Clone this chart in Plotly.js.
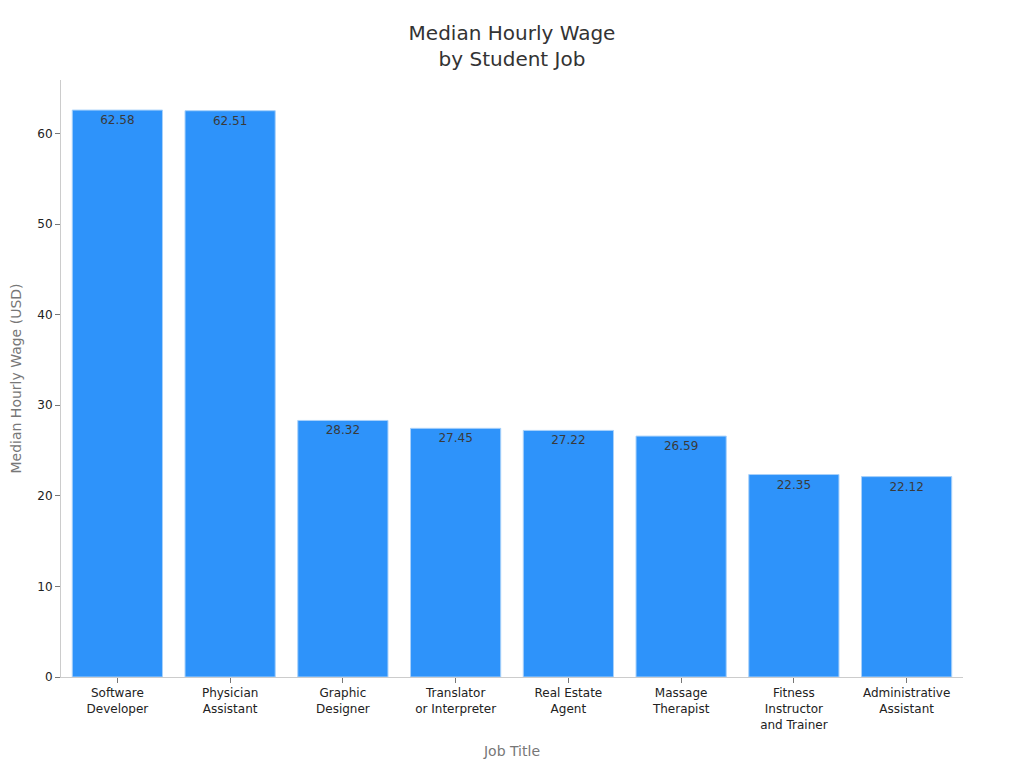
<!DOCTYPE html>
<html>
<head>
<meta charset="utf-8">
<script src="https://cdn.plot.ly/plotly-3.0.1.min.js"></script>
<style>
  html, body { margin: 0; padding: 0; background: #fff; }
  #chart { width: 1024px; height: 768px; }
</style>
</head>
<body>
<div id="chart"></div>
<script>
// job titles (line breaks as in the picture)
const jobs = [
    "Software<br>Developer",
    "Physician<br>Assistant",
    "Graphic<br>Designer",
    "Translator<br>or Interpreter",
    "Real Estate<br>Agent",
    "Massage<br>Therapist",
    "Fitness<br>Instructor<br>and Trainer",
    "Administrative<br>Assistant"
]
const wages = [62.58, 62.51, 28.32, 27.45, 27.22, 26.59, 22.35, 22.12]

const font = "DejaVu Sans, sans-serif"

const trace = {
    type: "bar",
    x: jobs,
    y: wages,
    text: wages.map(v => v.toFixed(2)),
    textposition: "inside",
    insidetextanchor: "end",
    textangle: 0,
    textfont: {family: font, size: 12, color: "#3a3a3a"},
    marker: {color: "#2E93FA", line: {color: "#A8D1FA", width: 1}},
    hoverinfo: "x+y"
}

const layout = {
    width: 1024,
    height: 768,
    margin: {l: 61, r: 61, t: 80, b: 91},
    paper_bgcolor: "#fff",
    plot_bgcolor: "#fff",
    font: {family: font, color: "#333", size: 12},
    title: {
        text: "Median Hourly Wage<br>by Student Job",
        font: {family: font, size: 20, color: "#333"},
        x: 0.5,
        y: 0.948,
        yanchor: "top"
    },
    bargap: 0.2,
    showlegend: false,
    xaxis: {
        title: {text: "Job Title", font: {family: font, size: 14, color: "#777"}, standoff: 15},
        showline: true,
        linecolor: "#ccc",
        ticks: "outside",
        ticklen: 5,
        tickcolor: "#777",
        tickfont: {family: font, size: 12, color: "#222"},
        showgrid: false
    },
    yaxis: {
        title: {text: "Median Hourly Wage (USD)", font: {family: font, size: 14, color: "#777"}, standoff: 12},
        showline: true,
        linecolor: "#ccc",
        ticks: "outside",
        ticklen: 5,
        tickcolor: "#777",
        tickfont: {family: font, size: 12, color: "#222"},
        showgrid: false,
        zeroline: false,
        range: [0, 65.9],
        dtick: 10
    }
}

Plotly.newPlot("chart", [trace], layout, {displayModeBar: false})
</script>
</body>
</html>
